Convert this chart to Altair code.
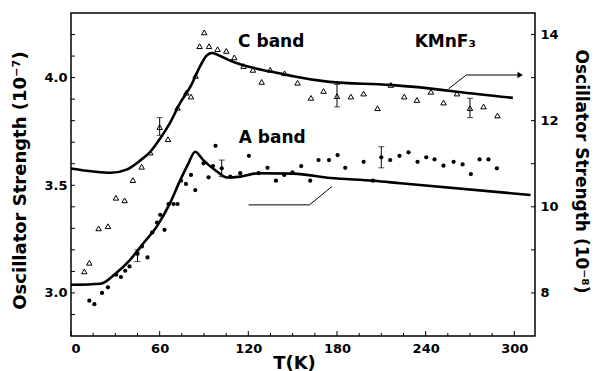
import altair as alt
import pandas as pd

# ---------------- data ----------------
# C band (right axis, 1e-8)
c_pts_t = [9.0, 12.4, 18.7, 25.0, 30.4, 36.3, 41.9, 47.8, 53.7, 60.0, 65.6, 72.1, 78.0, 81.2, 84.3,
           87.0, 90.2, 93.4, 99.2, 105.1, 110.5, 116.8, 123.1, 129.0, 134.8, 144.5, 153.3, 162.4,
           170.9, 180.0, 189.4, 198.0, 207.4, 216.5, 225.5, 234.1, 243.6, 252.1, 261.2, 270.0,
           279.2, 288.6]
c_pts_v = [8.50, 8.70, 9.50, 9.55, 10.21, 10.15, 10.62, 10.93, 11.26, 11.85, 11.57, 12.30, 12.65,
           12.56, 13.04, 13.73, 14.05, 13.73, 13.66, 13.62, 13.47, 13.27, 13.18, 12.90, 13.18,
           13.10, 12.88, 12.53, 12.69, 12.57, 12.56, 12.63, 12.29, 12.83, 12.56, 12.48, 12.67,
           12.42, 12.63, 12.29, 12.33, 12.12]
c_curve_t = [0, 15, 27, 38, 47, 54, 60, 67, 74, 81, 87.5, 92, 95.5, 101, 108, 114.5, 128, 144,
             150.5, 175, 216, 252, 261, 299]
c_curve_v = [10.89, 10.82, 10.79, 10.87, 11.08, 11.29, 11.57, 11.95, 12.42, 12.80, 13.27, 13.52,
             13.57, 13.50, 13.39, 13.31, 13.19, 13.08, 13.03, 12.90, 12.83, 12.71, 12.67, 12.53]
c_err_t = [60, 180, 270]
c_err_lo = [11.66, 12.32, 12.07]
c_err_hi = [12.07, 12.84, 12.52]

# A band (left axis, 1e-7)
a_pts_t = [12.4, 15.8, 21.0, 25.0, 30.6, 33.8, 36.7, 39.6, 45.0, 48.0, 51.8, 55.0, 58.2, 60.4,
           63.3, 66.0, 69.4, 72.1, 74.4, 77.8, 81.2, 84.1, 89.7, 93.1, 96.1, 97.8, 102.0, 107.8,
           114.5, 120.4, 126.9, 133.0, 138.7, 144.3, 149.9, 155.8, 161.9, 167.5, 174.6, 180.4,
           185.6, 198.0, 204.3, 210.0, 216.0, 222.3, 228.4, 234.5, 240.4, 246.0, 252.1, 258.9,
           265.0, 270.6, 276.5, 282.5, 288.2]
a_pts_v = [2.964, 2.948, 3.000, 3.026, 3.085, 3.074, 3.103, 3.123, 3.182, 3.216, 3.165, 3.281,
           3.327, 3.363, 3.293, 3.413, 3.413, 3.413, 3.521, 3.506, 3.548, 3.478, 3.602, 3.537,
           3.589, 3.683, 3.579, 3.540, 3.556, 3.637, 3.556, 3.581, 3.521, 3.548, 3.560, 3.589,
           3.521, 3.617, 3.617, 3.640, 3.581, 3.609, 3.521, 3.630, 3.617, 3.637, 3.653, 3.609,
           3.630, 3.620, 3.591, 3.609, 3.597, 3.552, 3.620, 3.620, 3.579]
a_curve_t = [0, 20, 30, 40, 49, 58, 67, 74, 79.5, 84, 89.5, 99, 105.5, 114.5, 127, 150.5, 175.5,
             205, 223, 311]
a_curve_v = [3.038, 3.043, 3.089, 3.154, 3.231, 3.308, 3.417, 3.525, 3.602, 3.656, 3.617, 3.563,
             3.536, 3.540, 3.556, 3.554, 3.534, 3.521, 3.509, 3.455]
a_err_t = [45, 102, 210]
a_err_lo = [3.146, 3.540, 3.581]
a_err_hi = [3.200, 3.617, 3.679]

# annotation pointers
c_arrow_t = [255.5, 267.5, 304.0]
c_arrow_v = [12.74, 13.06, 13.06]
a_pointer_t = [176.6, 161.4, 120.2]
a_pointer_v = [3.494, 3.409, 3.409]

# labels
x_labels = [0, 60, 120, 180, 240, 300]
x_major_ticks = [0, 60, 120, 180, 240, 300]
x_minor_ticks = [15, 30, 45, 75, 90, 105, 135, 150, 165, 195, 210, 225, 255, 270, 285]
yl_labels = [3.0, 3.5, 4.0]
yl_ticks = [2.9, 3.0, 3.1, 3.2, 3.3, 3.4, 3.5, 3.6, 3.7, 3.8, 3.9, 4.0, 4.1, 4.2]
yr_labels = [8, 10, 12, 14]
yr_ticks = [8, 9, 10, 11, 12, 13, 14]

c_text = pd.DataFrame({"t": [135.5, 253.3], "v": [13.82, 13.82], "s": ["C band", "KMnF₃"]})
a_text = pd.DataFrame({"t": [136.2], "v": [3.719], "s": ["A band"]})

# ---------------- chart ----------------
W, H = 464, 323
FONT = "DejaVu Sans"

x_scale = alt.Scale(domain=[0, 314], nice=False, zero=False)
yl_scale = alt.Scale(domain=[2.8, 4.3], nice=False, zero=False)
yr_scale = alt.Scale(domain=[7.0, 14.5], nice=False, zero=False)

common_axis = dict(labelFont=FONT, labelFontWeight="bold", labelFontSize=13, labelColor="black",
                   ticks=False, tickSize=0, domain=False, grid=False,
                   titleFont=FONT, titleFontWeight="bold", titleColor="black")

x_axis = alt.Axis(values=x_labels, title="T(K)", labelPadding=6, titleFontSize=18,
                  titleX=223, titleY=27, titleAlign="center", titleBaseline="middle", **common_axis)
yl_axis = alt.Axis(values=yl_labels, format=".1f", orient="left", labelPadding=4,
                   title="Oscillator Strength (10⁻⁷)", titleFontSize=18, titleAngle=270,
                   titleX=-51, titleY=167, titleAlign="center", titleBaseline="middle", **common_axis)
yr_axis = alt.Axis(values=yr_labels, format="d", orient="right", labelPadding=5,
                   title="Oscillator Strength (10⁻⁸)", titleFontSize=17, titleAngle=90,
                   titleX=45, titleY=158, titleAlign="center", titleBaseline="middle", **common_axis)

X = alt.X("t:Q", scale=x_scale, axis=x_axis)
YL = alt.Y("v:Q", scale=yl_scale, axis=yl_axis)
YR = alt.Y("v:Q", scale=yr_scale, axis=yr_axis)

# ---- A band group (left scale)
a_pts = alt.Chart(pd.DataFrame({"t": a_pts_t, "v": a_pts_v})).mark_circle(
    size=18, color="black", opacity=1).encode(x=X, y=YL)
a_curve = alt.Chart(pd.DataFrame({"t": a_curve_t, "v": a_curve_v})).mark_line(
    interpolate="monotone", strokeWidth=2.6, color="black").encode(x=X, y=YL)
a_err_df = pd.DataFrame({"t": a_err_t, "lo": a_err_lo, "hi": a_err_hi})
a_err = alt.Chart(a_err_df).mark_rule(color="black", strokeWidth=1).encode(
    x=X, y=alt.Y("lo:Q", scale=yl_scale, axis=yl_axis), y2="hi:Q")
a_cap_lo = alt.Chart(a_err_df).mark_tick(orient="horizontal", size=6, thickness=1, color="black").encode(
    x=X, y=alt.Y("lo:Q", scale=yl_scale, axis=yl_axis))
a_cap_hi = alt.Chart(a_err_df).mark_tick(orient="horizontal", size=6, thickness=1, color="black").encode(
    x=X, y=alt.Y("hi:Q", scale=yl_scale, axis=yl_axis))
a_ptr = alt.Chart(pd.DataFrame({"t": a_pointer_t, "v": a_pointer_v, "o": [0, 1, 2]})).mark_line(
    strokeWidth=1, color="black").encode(x=X, y=YL, order="o:Q")
a_lbl = alt.Chart(a_text).mark_text(font=FONT, fontWeight="bold", fontSize=17, color="black",
                                     align="center", baseline="middle").encode(x=X, y=YL, text="s:N")
yl_tk = alt.Chart(pd.DataFrame({"v": yl_ticks})).mark_rule(color="black", strokeWidth=1).encode(
    y=YL, x=alt.value(0), x2=alt.value(4))
x_maj = alt.Chart(pd.DataFrame({"t": x_major_ticks})).mark_rule(color="black", strokeWidth=1).encode(
    x=X, y=alt.value(H), y2=alt.value(H - 5))
x_min = alt.Chart(pd.DataFrame({"t": x_minor_ticks})).mark_rule(color="black", strokeWidth=1).encode(
    x=X, y=alt.value(H), y2=alt.value(H - 3))

a_group = alt.layer(a_curve, a_pts, a_err, a_cap_lo, a_cap_hi, a_ptr, a_lbl, yl_tk, x_maj, x_min)

# ---- C band group (right scale)
c_pts = alt.Chart(pd.DataFrame({"t": c_pts_t, "v": c_pts_v})).mark_point(
    shape="triangle-up", size=30, filled=False, color="black", strokeWidth=1, opacity=1).encode(x=X, y=YR)
c_curve = alt.Chart(pd.DataFrame({"t": c_curve_t, "v": c_curve_v})).mark_line(
    interpolate="monotone", strokeWidth=2.6, color="black").encode(x=X, y=YR)
c_err_df = pd.DataFrame({"t": c_err_t, "lo": c_err_lo, "hi": c_err_hi})
c_err = alt.Chart(c_err_df).mark_rule(color="black", strokeWidth=1).encode(
    x=X, y=alt.Y("lo:Q", scale=yr_scale, axis=yr_axis), y2="hi:Q")
c_cap_lo = alt.Chart(c_err_df).mark_tick(orient="horizontal", size=6, thickness=1, color="black").encode(
    x=X, y=alt.Y("lo:Q", scale=yr_scale, axis=yr_axis))
c_cap_hi = alt.Chart(c_err_df).mark_tick(orient="horizontal", size=6, thickness=1, color="black").encode(
    x=X, y=alt.Y("hi:Q", scale=yr_scale, axis=yr_axis))
c_ptr = alt.Chart(pd.DataFrame({"t": c_arrow_t, "v": c_arrow_v, "o": [0, 1, 2]})).mark_line(
    strokeWidth=1, color="black").encode(x=X, y=YR, order="o:Q")
c_head = alt.Chart(pd.DataFrame({"t": c_arrow_t[-1:], "v": c_arrow_v[-1:]})).mark_point(
    shape="triangle-right", size=40, filled=True, color="black", opacity=1).encode(x=X, y=YR)
c_lbl = alt.Chart(c_text).mark_text(font=FONT, fontWeight="bold", fontSize=17, color="black",
                                     align="center", baseline="middle").encode(x=X, y=YR, text="s:N")
yr_tk = alt.Chart(pd.DataFrame({"v": yr_ticks})).mark_rule(color="black", strokeWidth=1).encode(
    y=YR, x=alt.value(W), x2=alt.value(W - 4))

c_group = alt.layer(c_curve, c_pts, c_err, c_cap_lo, c_cap_hi, c_ptr, c_head, c_lbl, yr_tk)

chart = alt.layer(a_group, c_group).resolve_scale(y="independent").properties(
    width=W, height=H,
    autosize=alt.AutoSizeParams(type="none"),
    padding={"left": 71, "top": 13, "right": 62, "bottom": 35},
    background="white",
).configure_view(stroke="black", strokeWidth=1.5)

chart.save("out.html", embed_options={"renderer": "svg", "actions": False})
